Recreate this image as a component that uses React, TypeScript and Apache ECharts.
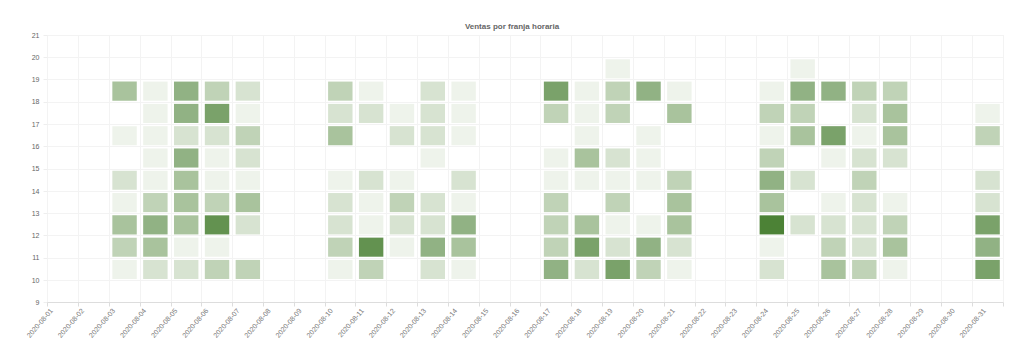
import React, { useEffect, useRef } from "react";
import * as echarts from "echarts";

const dates = [
  "2020-08-01", "2020-08-02", "2020-08-03", "2020-08-04", "2020-08-05", "2020-08-06", "2020-08-07",
  "2020-08-08", "2020-08-09", "2020-08-10", "2020-08-11", "2020-08-12", "2020-08-13", "2020-08-14",
  "2020-08-15", "2020-08-16", "2020-08-17", "2020-08-18", "2020-08-19", "2020-08-20", "2020-08-21",
  "2020-08-22", "2020-08-23", "2020-08-24", "2020-08-25", "2020-08-26", "2020-08-27", "2020-08-28",
  "2020-08-29", "2020-08-30", "2020-08-31",
];

// Sales per day (index = day of month - 1) for each hour slot; 0 = no sales
const h10 = [0, 0, 1, 2, 2, 3, 3, 0, 0, 1, 3, 0, 2, 1, 0, 0, 5, 2, 6, 3, 1, 0, 0, 2, 0, 4, 3, 1, 0, 0, 6];
const h11 = [0, 0, 3, 4, 1, 1, 0, 0, 0, 3, 7, 1, 5, 4, 0, 0, 3, 6, 2, 5, 2, 0, 0, 1, 0, 3, 2, 4, 0, 0, 5];
const h12 = [0, 0, 4, 5, 4, 7, 2, 0, 0, 2, 1, 2, 2, 5, 0, 0, 3, 4, 1, 1, 4, 0, 0, 8, 2, 2, 2, 3, 0, 0, 6];
const h13 = [0, 0, 1, 3, 4, 3, 4, 0, 0, 2, 1, 3, 2, 1, 0, 0, 3, 0, 3, 0, 4, 0, 0, 4, 0, 1, 2, 1, 0, 0, 2];
const h14 = [0, 0, 2, 1, 4, 1, 1, 0, 0, 1, 2, 1, 0, 2, 0, 0, 1, 1, 1, 1, 3, 0, 0, 5, 2, 0, 3, 0, 0, 0, 2];
const h15 = [0, 0, 0, 1, 5, 1, 2, 0, 0, 0, 0, 0, 1, 0, 0, 0, 1, 4, 2, 1, 0, 0, 0, 3, 0, 1, 2, 2, 0, 0, 0];
const h16 = [0, 0, 1, 1, 2, 2, 3, 0, 0, 4, 0, 2, 2, 1, 0, 0, 0, 1, 0, 1, 0, 0, 0, 1, 4, 6, 1, 4, 0, 0, 3];
const h17 = [0, 0, 0, 1, 5, 6, 1, 0, 0, 2, 2, 1, 2, 1, 0, 0, 3, 1, 3, 0, 4, 0, 0, 3, 3, 0, 2, 4, 0, 0, 1];
const h18 = [0, 0, 4, 1, 5, 3, 2, 0, 0, 3, 1, 0, 2, 1, 0, 0, 6, 1, 3, 5, 1, 0, 0, 1, 5, 5, 3, 3, 0, 0, 0];
const h19 = [0, 0, 0, 0, 0, 0, 0, 0, 0, 0, 0, 0, 0, 0, 0, 0, 0, 0, 1, 0, 0, 0, 0, 0, 1, 0, 0, 0, 0, 0, 0];

const hours = [10, 11, 12, 13, 14, 15, 16, 17, 18, 19];
const hourRows = [h10, h11, h12, h13, h14, h15, h16, h17, h18, h19];

const yTicks = [9, 10, 11, 12, 13, 14, 15, 16, 17, 18, 19, 20, 21];

const FONT = "'Liberation Sans', Arial, sans-serif";

export default function App() {
  const ref = useRef<HTMLDivElement>(null);

  useEffect(() => {
    if (!ref.current) return;
    const chart = echarts.init(ref.current, undefined, { renderer: "svg" });

    const data: number[][] = [];
    hourRows.forEach((row, hi) => {
      row.forEach((v, di) => {
        if (v > 0) data.push([di, hours[hi], v]);
      });
    });

    chart.setOption({
      animation: false,
      backgroundColor: "#ffffff",
      textStyle: { fontFamily: FONT },
      title: {
        text: "Ventas por franja horaria",
        left: "center",
        top: 17,
        textStyle: { fontSize: 8, fontWeight: "bold", color: "#666666", fontFamily: FONT },
      },
      grid: [
        { left: 47.5, right: 21, top: 35, bottom: 58.5, containLabel: false },
        { left: 51.5, right: 8.5, top: 35, bottom: 58.5, containLabel: false },
      ],
      xAxis: [
        {
          type: "value",
          gridIndex: 0,
          min: 0,
          max: dates.length,
          interval: 1,
          axisLine: { show: true, lineStyle: { color: "#dddddd" } },
          axisTick: { show: true, length: 4, lineStyle: { color: "#dddddd" } },
          splitLine: { show: true, lineStyle: { color: "#f3f3f3" } },
          axisLabel: { show: false },
        },
        {
          type: "value",
          gridIndex: 1,
          min: 0,
          max: dates.length,
          interval: 1,
          axisLine: { show: false },
          axisTick: { show: false },
          splitLine: { show: false },
          axisLabel: {
            rotate: 49,
            fontSize: 7,
            color: "#777777",
            margin: 7,
            formatter: (v: number) => (v < dates.length ? dates[Math.round(v)] : ""),
          },
        },
      ],
      yAxis: [
        {
          type: "value",
          gridIndex: 0,
          min: yTicks[0],
          max: yTicks[yTicks.length - 1],
          interval: 1,
          axisLine: { show: false },
          axisTick: { show: true, length: 4, lineStyle: { color: "#eeeeee" } },
          splitLine: { show: true, lineStyle: { color: "#f3f3f3" } },
          axisLabel: { fontSize: 7, color: "#666666", margin: 8 },
        },
        {
          type: "value",
          gridIndex: 1,
          min: yTicks[0],
          max: yTicks[yTicks.length - 1],
          interval: 1,
          show: false,
        },
      ],
      visualMap: {
        show: false,
        type: "continuous",
        min: 1,
        max: 8,
        dimension: 2,
        seriesIndex: 0,
        inRange: { color: ["#eef3eb", "#4c8236"] },
      },
      series: [
        {
          type: "custom",
          xAxisIndex: 0,
          yAxisIndex: 0,
          encode: { x: 0, y: 1 },
          data,
          renderItem: (params: any, api: any) => {
            const x = api.value(0);
            const y = api.value(1);
            const p0 = api.coord([x, y + 1]);
            const p1 = api.coord([x + 1, y]);
            const w = p1[0] - p0[0];
            const h = p1[1] - p0[1];
            return {
              type: "rect",
              shape: { x: p0[0] + 3.2, y: p0[1] + 2, width: w - 6.4, height: h - 3.2 },
              style: { fill: api.visual("color") },
            };
          },
        },
      ],
    });

    return () => chart.dispose();
  }, []);

  return (
    <div
      ref={ref}
      style={{ position: "fixed", left: 0, top: 0, width: 1024, height: 361, background: "#fff" }}
    />
  );
}
